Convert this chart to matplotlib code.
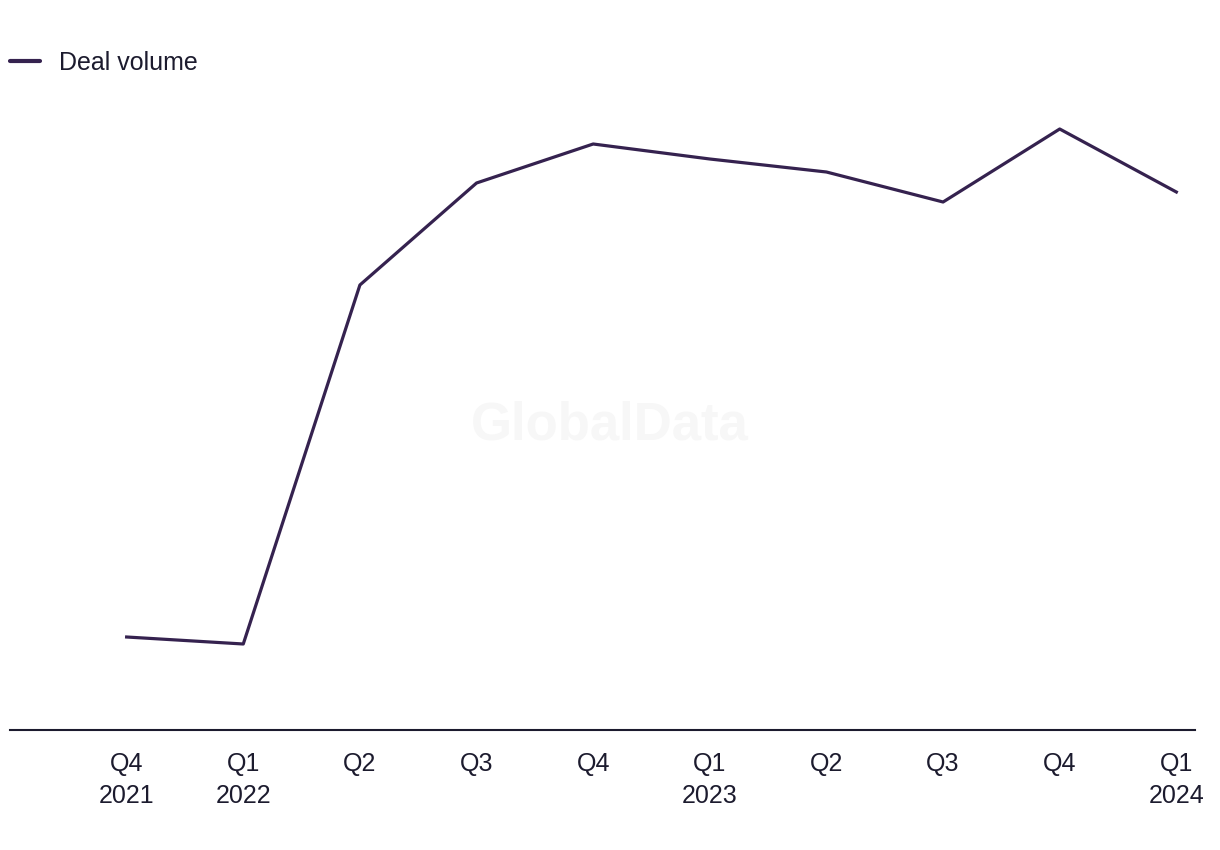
import matplotlib.pyplot as plt

quarters = ['Q4\n2021', 'Q1\n2022', 'Q2', 'Q3', 'Q4', 'Q1\n2023', 'Q2', 'Q3', 'Q4', 'Q1\n2024']
deal_volume = [93, 86, 445, 547, 586, 571, 558, 528, 601, 538]

plt.rcParams['font.family'] = ['Liberation Sans', 'DejaVu Sans']
text_color = '#1c1b2e'
line_color = '#35224f'

fig = plt.figure(figsize=(12.2, 8.5), dpi=100)
ax = fig.add_axes([10 / 1220, 120 / 850, 1185 / 1220, 630 / 850])

x = list(range(len(quarters)))
ax.plot(x, deal_volume, color=line_color, linewidth=2.3, label='Deal volume')

ax.set_xlim(-1.0, 9.16)
ax.set_ylim(0, 630)
ax.set_xticks(x)
ax.set_xticklabels(quarters, fontsize=18, color=text_color, linespacing=1.4)
ax.tick_params(axis='x', length=0, pad=16)
ax.set_yticks([])

for side in ['top', 'right', 'left']:
    ax.spines[side].set_visible(False)
ax.spines['bottom'].set_color(text_color)
ax.spines['bottom'].set_linewidth(1.5)

# watermark
fig.text(0.5, 0.5, 'GlobalData', fontsize=38, fontweight='bold', color='#f7f7f7',
         ha='center', va='center', zorder=0)

leg = fig.legend(loc='upper left', bbox_to_anchor=(10 / 1220, 1 - 51 / 850), frameon=False, fontsize=18,
                 labelcolor=text_color, handlelength=1.2, handletextpad=0.76,
                 borderpad=0, borderaxespad=0)
leg.get_lines()[0].set_linewidth(3)
leg.get_lines()[0].set_solid_capstyle('round')

fig.savefig('out.png', dpi=100)
